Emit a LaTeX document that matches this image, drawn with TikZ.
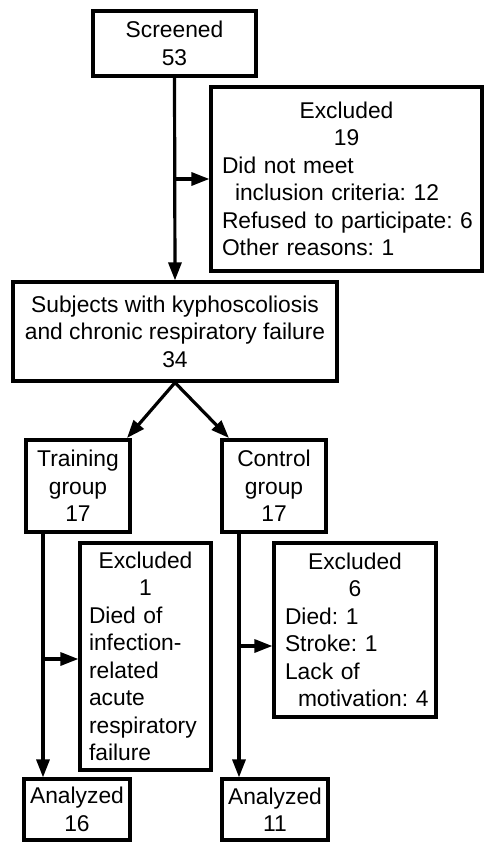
\documentclass[tikz,border=0pt]{standalone}
\usepackage{fontspec}
\setmainfont{Liberation Sans}
\usetikzlibrary{arrows.meta}
\frenchspacing
\newcommand\myc[1]{\makebox[\hsize]{#1}}
\newcommand\myl[1]{\makebox[\hsize][l]{#1}}
\begin{document}
\begin{tikzpicture}[x=1pt,y=-1pt,
  box/.style={draw, line width=3.2pt, inner sep=0pt, align=center,
    font=\fontsize{22.8}{27.5}\selectfont},
  exbox/.style={box, align=left, inner ysep=0pt},
  arr/.style={line width=3.2pt, -{Triangle[length=18pt,width=13pt]}}]
\useasboundingbox (0,0) rectangle (485,842);
\node[box, minimum width=163pt, minimum height=65pt] (scr) at (174.5,43.5) {Screened\\53};
\node[exbox, inner xsep=11pt, text width=249pt, minimum height=184pt] (ex0) at (346.5,179)
  {\myc{Excluded}\\\myc{19}\\\myl{Did not meet}\\\myl{\hspace*{13pt}inclusion criteria: 12}\\\myl{Refused to participate: 6}\\\myl{Other reasons: 1}};
\node[box, minimum width=324pt, minimum height=99pt] (sub) at (175,331.5)
  {Subjects with kyphoscoliosis\\and chronic respiratory failure\\34};
\node[box, minimum width=104pt, minimum height=92pt] (trn) at (78,486) {Training\\group\\17};
\node[box, minimum width=104pt, minimum height=92pt] (ctl) at (274,486) {Control\\group\\17};
\node[exbox, inner xsep=9pt, text width=113pt, minimum height=227pt] (ex1) at (145.5,656.5)
  {\myc{Excluded}\\\myc{1}\\\myl{Died of}\\\myl{infection-}\\\myl{related}\\\myl{acute}\\\myl{respiratory}\\\myl{failure}};
\node[exbox, inner xsep=11pt, text width=140pt, minimum height=174pt] (ex2) at (355,630)
  {\myc{Excluded}\\\myc{6}\\\myl{Died: 1}\\\myl{Stroke: 1}\\\myl{Lack of}\\\myl{\hspace*{13pt}motivation: 4}};
\node[box, minimum width=106pt, minimum height=61pt] (an1) at (77,809.5) {Analyzed\\16};
\node[box, minimum width=106pt, minimum height=61pt] (an2) at (275,809.5) {Analyzed\\11};
% connectors
\draw[arr] (scr.south) -- (sub.north);
\coordinate (b0) at (scr.south |- ex0.west);
\draw[arr] (b0) -- (ex0.west);
\coordinate (tr) at (127,438);
\coordinate (cr) at (229,438);
\draw[arr] (sub.south) -- (tr);
\draw[arr] (sub.south) -- (cr);
\coordinate (ts) at (43,532);
\draw[arr] (ts) -- (ts |- an1.north);
\coordinate (tb) at (43,659);
\draw[arr] (tb) -- (tb -| ex1.west);
\coordinate (cs) at (239,532);
\draw[arr] (cs) -- (cs |- an2.north);
\coordinate (cb) at (239,646);
\draw[arr] (cb) -- (cb -| ex2.west);
\end{tikzpicture}
\end{document}
